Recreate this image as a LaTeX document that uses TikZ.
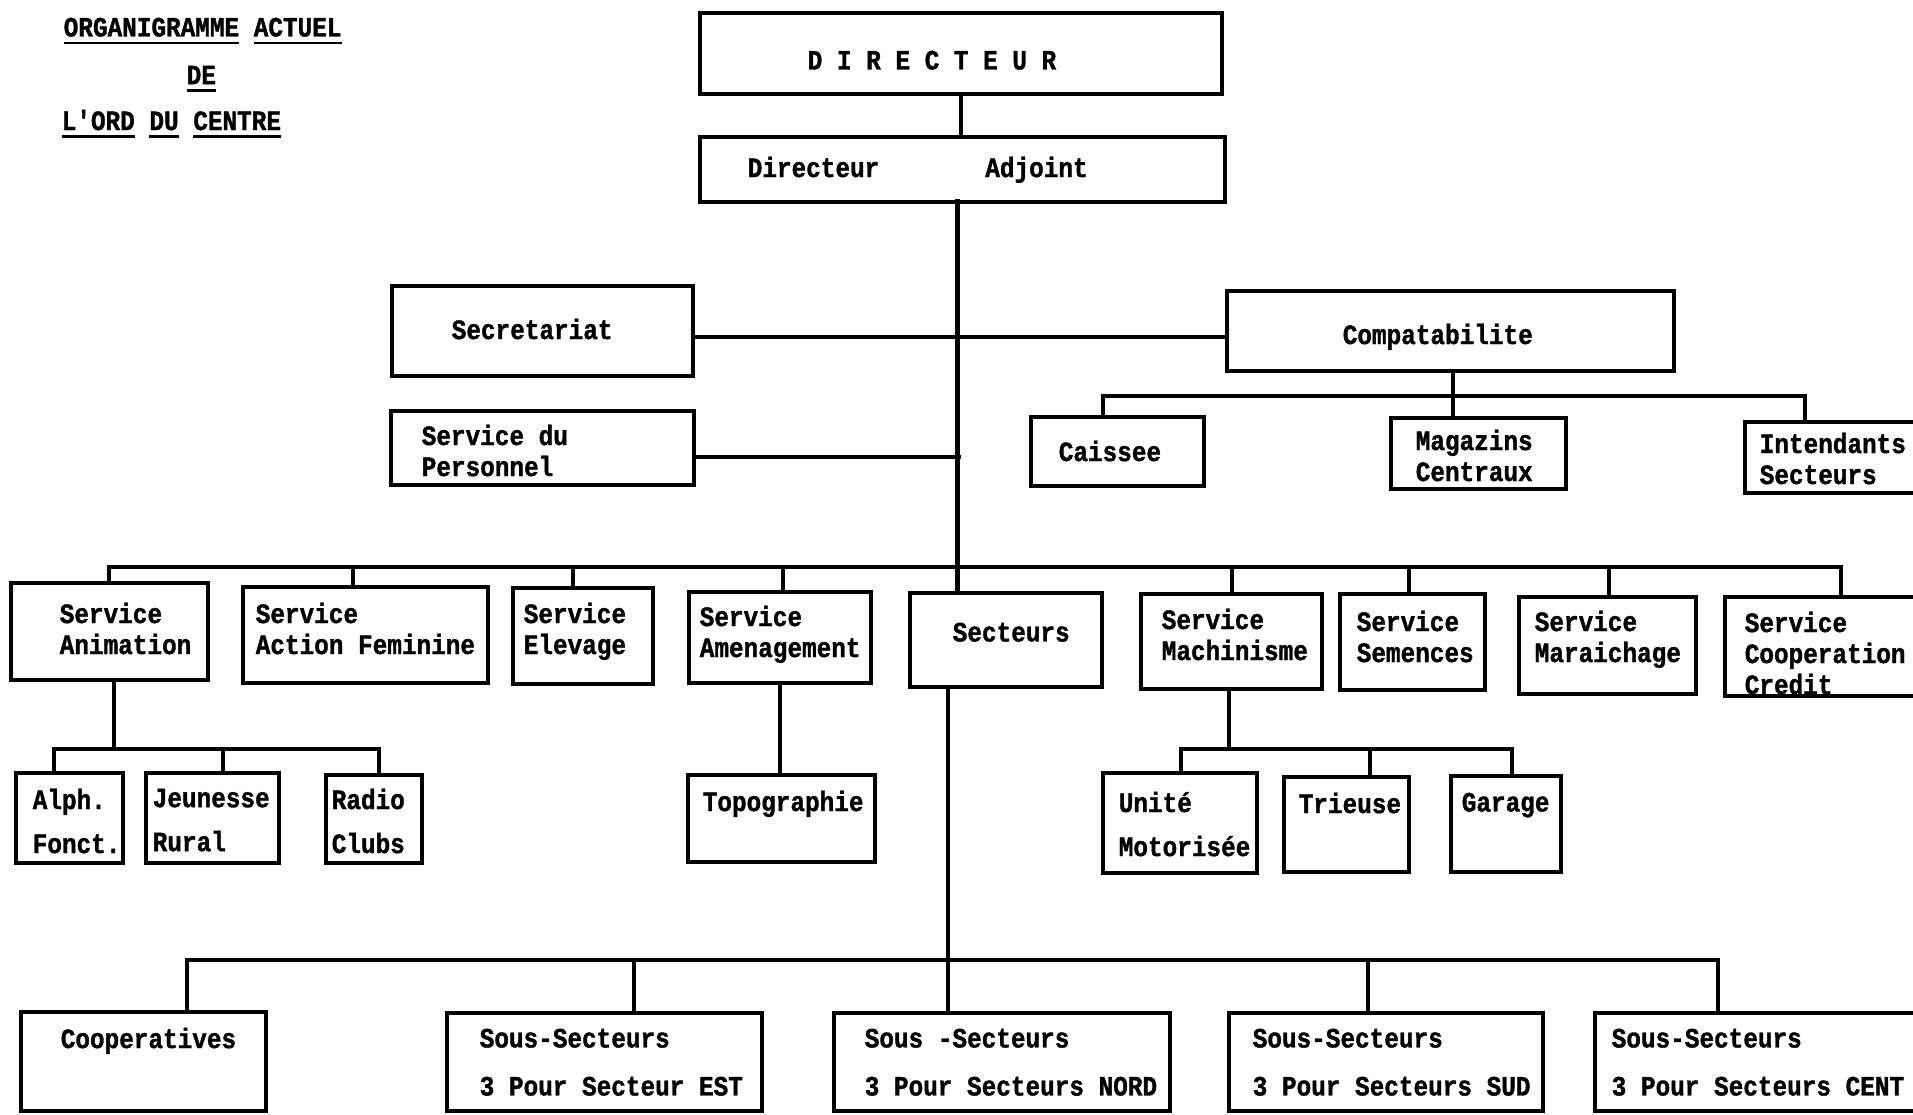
\documentclass[tikz,border=0pt]{standalone}
\usepackage{fontspec}
\newfontfamily\twfont[FakeStretch=0.87,BoldFeatures={FakeBold=1.2}]{Liberation Mono}
\newcommand\ulword[1]{\setbox0=\hbox{#1}\rlap{\rule[-8pt]{\wd0}{2.8pt}}\box0\relax}

\begin{document}
\begin{tikzpicture}[x=1pt,y=-1pt,line width=3.5pt,line cap=rect,
  font=\twfont\bfseries\fontsize{28}{31}\selectfont]
\tikzset{box/.style 2 args={draw,line cap=butt,minimum width=#1,minimum height=#2,inner sep=0pt},
  txt/.style={anchor=north west,align=left,inner sep=0pt},
  txl/.style={txt,font=\twfont\bfseries\fontsize{28}{44}\selectfont},
  txm/.style={txt,font=\twfont\bfseries\fontsize{28}{48}\selectfont}}
\useasboundingbox (0,0) rectangle (1913,1115);
\clip (0,0) rectangle (1913,1115);

% title
\node[txt] (t1) at (62,16) {\ulword{ORGANIGRAMME} \ulword{ACTUEL}};
\node[txt] (t2) at (185,64) {\ulword{DE}};
\node[txt] (t3) at (60,108) {\ulword{L'ORD} \ulword{DU} \ulword{CENTRE}};

% direction
\node[box={522}{81}] (dir) at (961,53.5) {};
\node[txt] (tdir) at (806,49) {D I R E C T E U R};
\node[box={525}{65}] (adj) at (962.5,169.5) {};
\node[txt] (tadj) at (746,155) {Directeur\hspace{106pt}Adjoint};

\node[box={301}{90}] (secr) at (542.5,331) {};
\node[txt] (tsecr) at (450,317) {Secretariat};
\node[box={303}{74}] (pers) at (542.5,448) {};
\node[txt] (tpers) at (420,423) {Service du\\Personnel};
\node[box={447}{80}] (compta) at (1450.5,331) {};
\node[txt] (tcompta) at (1341,322) {Compatabilite};
\node[box={173}{69}] (caisse) at (1117.5,451.5) {};
\node[txt] (tcaisse) at (1057,439) {Caissee};
\node[box={175}{71}] (magaz) at (1478.5,453.5) {};
\node[txt] (tmagaz) at (1414,428) {Magazins\\Centraux};
\node[box={185}{71}] (intend) at (1837.5,457.5) {};
\node[txt] (tintend) at (1758,431) {Intendants\\Secteurs};

% services
\node[box={197}{97}] (anim) at (109.5,631.5) {};
\node[txt] (tanim) at (58,601) {Service\\Animation};
\node[box={245}{96}] (actfem) at (365.5,635) {};
\node[txt] (tactfem) at (254,601) {Service\\Action Feminine};
\node[box={140}{96}] (elev) at (583,636) {};
\node[txt] (telev) at (522,601) {Service\\Elevage};
\node[box={182}{91}] (amenag) at (780,637.5) {};
\node[txt] (tamenag) at (698,604) {Service\\Amenagement};
\node[box={192}{94}] (sect) at (1006,640) {};
\node[txt] (tsect) at (951,621) {Secteurs};
\node[box={181}{95}] (machin) at (1231.5,641.5) {};
\node[txt] (tmachin) at (1160,607) {Service\\Machinisme};
\node[box={145}{96}] (semen) at (1412.5,642) {};
\node[txt] (tsemen) at (1355,609) {Service\\Semences};
\node[box={177}{97}] (marai) at (1607.5,645.5) {};
\node[txt] (tmarai) at (1533,609) {Service\\Maraichage};
\node[box={205}{99}] (coopcr) at (1827.5,646.5) {};
\node[txt] (tcoopcr) at (1743,610) {Service\\Cooperation\\Credit};

% sous-services
\node[box={107}{90}] (alph) at (69.5,818) {};
\node[txl] (talph) at (31,787) {Alph.\\Fonct.};
\node[box={133}{90}] (jeun) at (212.5,818) {};
\node[txl] (tjeun) at (151,787) {Jeunesse\\Rural};
\node[box={96}{88}] (radio) at (374,819) {};
\node[txl] (tradio) at (330,787) {Radio\\Clubs};
\node[box={187}{87}] (topo) at (781.5,818.5) {};
\node[txt] (ttopo) at (701,789) {Topographie};
\node[box={154}{100}] (unite) at (1180,823) {};
\node[txl] (tunite) at (1117,790) {Unité\\Motorisée};
\node[box={125}{95}] (trieuse) at (1346.5,824.5) {};
\node[txt] (ttrieuse) at (1297,791) {Trieuse};
\node[box={110}{96}] (garage) at (1506,824) {};
\node[txt] (tgarage) at (1460,791) {Garage};

% secteurs
\node[box={245}{99}] (coop) at (143.5,1061.5) {};
\node[txt] (tcoop) at (59,1026) {Cooperatives};
\node[box={315}{98}] (sest) at (604.5,1062) {};
\node[txm] (tsest) at (478,1027) {Sous-Secteurs\\3 Pour Secteur EST};
\node[box={336}{98}] (snord) at (1002,1062) {};
\node[txm] (tsnord) at (863,1027) {Sous -Secteurs\\3 Pour Secteurs NORD};
\node[box={314}{98}] (ssud) at (1386,1062) {};
\node[txm] (tssud) at (1251,1027) {Sous-Secteurs\\3 Pour Secteurs SUD};
\node[box={335}{98}] (scent) at (1762.5,1062) {};
\node[txm] (tscent) at (1610,1027) {Sous-Secteurs\\3 Pour Secteurs CENT};

% liaisons
\draw (dir.south) -- (dir.south |- adj.north);
\coordinate (trunk) at (957,202);
\draw[line width=5pt] (trunk) -- (trunk |- sect.north);
\draw ([yshift=-6pt]secr.east) -- ([yshift=-6pt]compta.west);
\draw ([yshift=-9pt]pers.east) -- ++(263,0);

\coordinate (c1) at (1103,396);
\coordinate (c2) at (1453,396);
\coordinate (c3) at (1805,396);
\draw (c1 |- caisse.north) -- (c1) -- (c3) -- (c3 |- intend.north);
\draw (c2 |- compta.south) -- (c2 |- magaz.north);

\foreach \n/\x in {anim/109,actfem/353,elev/573,amenag/783,machin/1232,semen/1409,marai/1609,coopcr/1841}{
  \coordinate (j-\n) at (\x,567);
  \draw (j-\n) -- (j-\n |- \n.north);
}
\draw (j-anim) -- (j-coopcr);

\coordinate (ja) at (114,749);
\draw (ja |- anim.south) -- (ja);
\foreach \n/\x in {alph/54,jeun/223,radio/379}{
  \coordinate (j-\n) at (\x,749);
  \draw (j-\n) -- (j-\n |- \n.north);
}
\draw (j-alph) -- (j-radio);

\draw (amenag.south) -- (amenag.south |- topo.north);

\coordinate (jm) at (1229,749);
\draw (jm |- machin.south) -- (jm);
\foreach \n/\x in {unite/1181,trieuse/1370,garage/1512}{
  \coordinate (j-\n) at (\x,749);
  \draw (j-\n) -- (j-\n |- \n.north);
}
\draw (j-unite) -- (j-garage);

\coordinate (js) at (948,960);
\draw[line width=4.5pt] (js |- sect.south) -- (js |- snord.north);
\foreach \n/\x in {coop/187,sest/634,ssud/1368,scent/1718}{
  \coordinate (j-\n) at (\x,960);
  \draw (j-\n) -- (j-\n |- \n.north);
}
\draw (j-coop) -- (j-scent);
\end{tikzpicture}
\end{document}
